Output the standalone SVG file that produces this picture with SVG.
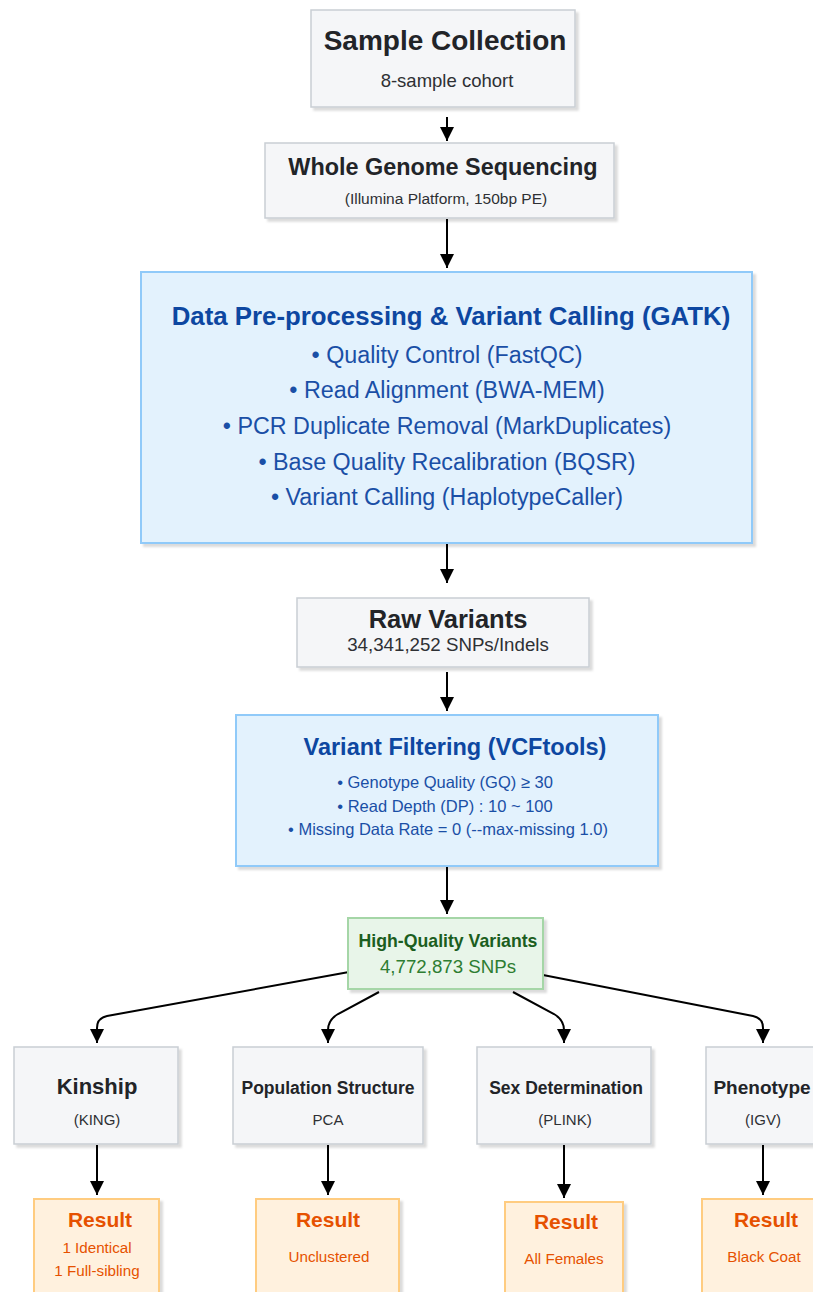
<svg xmlns="http://www.w3.org/2000/svg" width="813" height="1292" viewBox="0 0 813 1292">
  <style>
    text { font-family: "Liberation Sans", Arial, sans-serif; text-anchor: middle; }
    .gray { fill: #F5F6F8; stroke: #C9CED4; stroke-width: 1.5; }
    .blue { fill: #E3F2FD; stroke: #90CAF9; stroke-width: 2; }
    .green { fill: #E8F5E9; stroke: #A5D6A7; stroke-width: 2; }
    .orange { fill: #FFF1DE; stroke: #FFCC80; stroke-width: 2; }
    .box { filter: url(#shadow); }
    .t-dark { fill: #222428; font-weight: bold; }
    .s-dark { fill: #2E3034; }
    .t-blue { fill: #0D47A1; font-weight: bold; }
    .s-blue { fill: #1A4FA6; }
    .t-green { fill: #1B5E20; font-weight: bold; }
    .s-green { fill: #2E7D32; }
    .t-orange { fill: #E65100; font-weight: bold; }
    .s-orange { fill: #E65100; }
    .conn { fill: none; stroke: #000; stroke-width: 2; marker-end: url(#arrow); }
  </style>
  <defs>
    <filter id="shadow" x="-10%" y="-10%" width="130%" height="130%">
      <feDropShadow dx="3" dy="3" stdDeviation="1.2" flood-color="#000" flood-opacity="0.14"/>
    </filter>
    <marker id="arrow" markerUnits="userSpaceOnUse" markerWidth="14" markerHeight="14" viewBox="0 0 12 12" refX="12" refY="6" orient="auto">
      <path d="M0,0 L12,6 L0,12 z" fill="#000"/>
    </marker>
  </defs>

  <rect width="813" height="1292" fill="#FFFFFF"/>

  <!-- connectors -->
  <g id="connectors">
    <path class="conn" d="M447,117 L447,141"/>
    <path class="conn" d="M447,219 L447,268"/>
    <path class="conn" d="M447,544 L447,583"/>
    <path class="conn" d="M447,672 L447,711"/>
    <path class="conn" d="M447,866 L447,914"/>
    <path class="conn" d="M349,972 L107,1016 Q97,1018 97,1028 L97,1043"/>
    <path class="conn" d="M379,992 L338,1014 Q328,1020 328,1030 L328,1043"/>
    <path class="conn" d="M513,992 L554,1014 Q564,1020 564,1030 L564,1043"/>
    <path class="conn" d="M543,975 L753,1016 Q763,1018 763,1028 L763,1043"/>
    <path class="conn" d="M97,1145 L97,1195"/>
    <path class="conn" d="M328,1145 L328,1195"/>
    <path class="conn" d="M564,1145 L564,1198"/>
    <path class="conn" d="M763,1145 L763,1195"/>
  </g>

  <!-- pipeline stages -->
  <g id="sample-collection">
    <rect class="gray box" x="311" y="10" width="264" height="97"/>
    <text class="t-dark" x="445" y="50" font-size="28">Sample Collection</text>
    <text class="s-dark" x="447" y="87" font-size="18.5">8-sample cohort</text>
  </g>

  <g id="wgs">
    <rect class="gray box" x="265" y="143" width="349" height="75"/>
    <text class="t-dark" x="443" y="175" font-size="23.4">Whole Genome Sequencing</text>
    <text class="s-dark" x="446" y="204" font-size="15.5">(Illumina Platform, 150bp PE)</text>
  </g>

  <g id="gatk">
    <rect class="blue box" x="141" y="272" width="611" height="271"/>
    <text class="t-blue" x="451" y="325" font-size="25.8">Data Pre-processing &amp; Variant Calling (GATK)</text>
    <text class="s-blue" x="447" y="363" font-size="23.3">• Quality Control (FastQC)</text>
    <text class="s-blue" x="447" y="398" font-size="23.3">• Read Alignment (BWA-MEM)</text>
    <text class="s-blue" x="447" y="434" font-size="23.3">• PCR Duplicate Removal (MarkDuplicates)</text>
    <text class="s-blue" x="447" y="470" font-size="23.3">• Base Quality Recalibration (BQSR)</text>
    <text class="s-blue" x="447" y="505" font-size="23.3">• Variant Calling (HaplotypeCaller)</text>
  </g>

  <g id="raw-variants">
    <rect class="gray box" x="297" y="598" width="292" height="69"/>
    <text class="t-dark" x="448" y="628" font-size="25.5">Raw Variants</text>
    <text class="s-dark" x="448" y="651" font-size="18.7">34,341,252 SNPs/Indels</text>
  </g>

  <g id="variant-filtering">
    <rect class="blue box" x="236" y="715" width="422" height="151"/>
    <text class="t-blue" x="455" y="755" font-size="23.5">Variant Filtering (VCFtools)</text>
    <text class="s-blue" x="445" y="788" font-size="16.5">• Genotype Quality (GQ) ≥ 30</text>
    <text class="s-blue" x="445" y="812" font-size="16.5">• Read Depth (DP) : 10 ~ 100</text>
    <text class="s-blue" x="448" y="835" font-size="16.5">• Missing Data Rate = 0 (--max-missing 1.0)</text>
  </g>

  <g id="high-quality-variants">
    <rect class="green box" x="348" y="918" width="195" height="71"/>
    <text class="t-green" x="448" y="947" font-size="17.7">High-Quality Variants</text>
    <text class="s-green" x="448" y="973" font-size="18.7">4,772,873 SNPs</text>
  </g>

  <!-- analyses -->
  <g id="kinship">
    <rect class="gray box" x="14" y="1047" width="164" height="97"/>
    <text class="t-dark" x="97" y="1094" font-size="22">Kinship</text>
    <text class="s-dark" x="97" y="1125" font-size="15">(KING)</text>
  </g>

  <g id="population-structure">
    <rect class="gray box" x="233" y="1047" width="190" height="97"/>
    <text class="t-dark" x="328" y="1094" font-size="17.5">Population Structure</text>
    <text class="s-dark" x="328" y="1125" font-size="15">PCA</text>
  </g>

  <g id="sex-determination">
    <rect class="gray box" x="477" y="1047" width="174" height="97"/>
    <text class="t-dark" x="566" y="1094" font-size="17.5">Sex Determination</text>
    <text class="s-dark" x="565" y="1125" font-size="15">(PLINK)</text>
  </g>

  <g id="phenotype">
    <rect class="gray box" x="706" y="1047" width="174" height="97"/>
    <text class="t-dark" x="762" y="1094" font-size="19">Phenotype</text>
    <text class="s-dark" x="763" y="1125" font-size="15">(IGV)</text>
  </g>

  <!-- results -->
  <g id="result-kinship">
    <rect class="orange box" x="34" y="1199" width="125" height="120"/>
    <text class="t-orange" x="100" y="1227" font-size="21">Result</text>
    <text class="s-orange" x="97" y="1253" font-size="15.2">1 Identical</text>
    <text class="s-orange" x="97" y="1276" font-size="15.2">1 Full-sibling</text>
  </g>

  <g id="result-population">
    <rect class="orange box" x="256" y="1199" width="143" height="120"/>
    <text class="t-orange" x="328" y="1227" font-size="21">Result</text>
    <text class="s-orange" x="329" y="1262" font-size="15.2">Unclustered</text>
  </g>

  <g id="result-sex">
    <rect class="orange box" x="505" y="1202" width="118" height="120"/>
    <text class="t-orange" x="566" y="1229" font-size="21">Result</text>
    <text class="s-orange" x="564" y="1264" font-size="15.2">All Females</text>
  </g>

  <g id="result-phenotype">
    <rect class="orange box" x="702" y="1199" width="178" height="120"/>
    <text class="t-orange" x="766" y="1227" font-size="21">Result</text>
    <text class="s-orange" x="764" y="1262" font-size="15.2">Black Coat</text>
  </g>
</svg>
